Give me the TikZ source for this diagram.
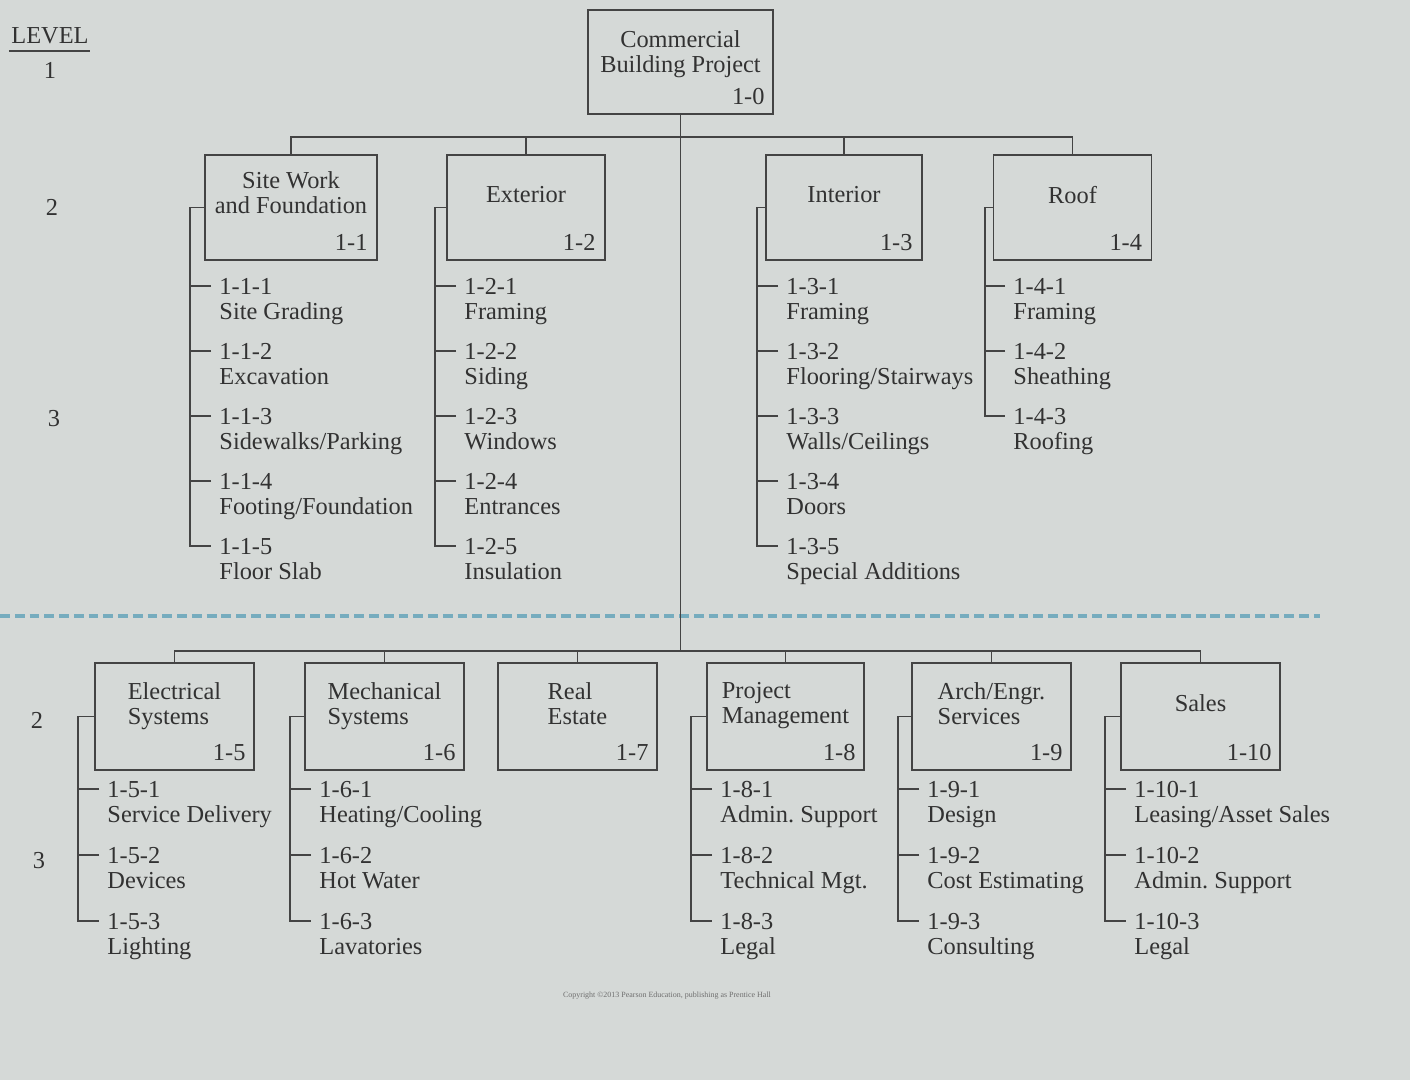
\documentclass[tikz,border=0pt]{standalone}
\usepackage{fontspec}
\setmainfont{Liberation Serif}
\frenchspacing
\usetikzlibrary{positioning,calc}
\definecolor{PageGray}{RGB}{213,217,215}
\definecolor{InkGray}{RGB}{50,50,50}
\definecolor{LineGray}{RGB}{68,68,68}
\definecolor{CutBlue}{RGB}{118,172,190}

\begin{document}
\begin{tikzpicture}[x=0.15mm, y=-0.15mm, font=\fontsize{10.4}{10.8}\selectfont, text=InkGray]
\tikzset{
  wbsbox/.style={draw=LineGray, line width=0.8pt, inner sep=0pt, minimum width=23.7mm, minimum height=15.75mm},
  lowbox/.style={wbsbox, minimum width=23.85mm, minimum height=16.05mm},
  boxtitle/.style={anchor=north, inner sep=0pt, align=center},
  lowtitle/.style={anchor=north, inner sep=0pt, align=left},
  boxcode/.style={anchor=south east, inner sep=0pt},
  item/.style={anchor=north west, inner sep=0pt, align=left},
  link/.style={draw=LineGray, line width=0.8pt}
}
  % page and margins
  \fill[PageGray] (0,0) rectangle (1410,1080);
  \useasboundingbox (0,0) rectangle (1410,1080);

  % level column
  \node[inner sep=0pt] (lvl) at (50,36) {LEVEL};
  \draw[LineGray, line width=0.9pt] ($(lvl.south west)+(-2,6)$) -- ($(lvl.south east)+(1,6)$);
  \node (lv1) at (50,70) {1};
  \node (lv2a) at (52,207) {2};
  \node (lv3a) at (54,419) {3};
  \node (lv2b) at (37,720) {2};
  \node (lv3b) at (39,861) {3};

  % level 1
  \node[wbsbox, minimum width=27.75mm, minimum height=15.6mm] (root) at (680.5,62) {};
  \node[boxtitle] (roott) at ($(root.north)+(0,21)$) {Commercial\\Building Project};
  \node[boxcode] (rootc) at ($(root.south east)+(-9,-10)$) {1-0};
  \coordinate (hubtop) at (680.5,137);
  \coordinate (hublow) at (680.5,651);

  % level 2, upper row
  \node[wbsbox, minimum width=25.8mm] (sw) at (291,207.5) {};
  \node[boxtitle] (swt) at ($(sw.north)+(0,17)$) {Site Work\\and Foundation};
  \node[boxcode] (swc) at ($(sw.south east)+(-10,-10)$) {1-1};
  \node[wbsbox] (ex) at (526,207.5) {};
  \node[boxtitle] (ext) at ($(ex.north)+(0,32)$) {Exterior};
  \node[boxcode] (exc) at ($(ex.south east)+(-10,-10)$) {1-2};
  \node[wbsbox, minimum width=23.4mm] (in) at (844,207.5) {};
  \node[boxtitle] (int) at ($(in.north)+(0,32)$) {Interior};
  \node[boxcode] (inc) at ($(in.south east)+(-10,-10)$) {1-3};
  \node[wbsbox] (rf) at (1072.5,207.5) {};
  \node[boxtitle] (rft) at ($(rf.north)+(0,32)$) {Roof};
  \node[boxcode] (rfc) at ($(rf.south east)+(-10,-10)$) {1-4};

  % level 3, upper row
  \node[item] (sw1) at (219,278) {1-1-1\\Site Grading};
  \node[item] (sw2) at (219,343) {1-1-2\\Excavation};
  \node[item] (sw3) at (219,408) {1-1-3\\Sidewalks/Parking};
  \node[item] (sw4) at (219,473) {1-1-4\\Footing/Foundation};
  \node[item] (sw5) at (219,538) {1-1-5\\Floor Slab};
  \node[item] (ex1) at (464,278) {1-2-1\\Framing};
  \node[item] (ex2) at (464,343) {1-2-2\\Siding};
  \node[item] (ex3) at (464,408) {1-2-3\\Windows};
  \node[item] (ex4) at (464,473) {1-2-4\\Entrances};
  \node[item] (ex5) at (464,538) {1-2-5\\Insulation};
  \node[item] (in1) at (786,278) {1-3-1\\Framing};
  \node[item] (in2) at (786,343) {1-3-2\\Flooring/Stairways};
  \node[item] (in3) at (786,408) {1-3-3\\Walls/Ceilings};
  \node[item] (in4) at (786,473) {1-3-4\\Doors};
  \node[item] (in5) at (786,538) {1-3-5\\Special Additions};
  \node[item] (rf1) at (1013,278) {1-4-1\\Framing};
  \node[item] (rf2) at (1013,343) {1-4-2\\Sheathing};
  \node[item] (rf3) at (1013,408) {1-4-3\\Roofing};

  % cut between the two halves of the sheet
  \draw[CutBlue, line width=1.3pt, dash pattern=on 4.2pt off 2.1pt] (0,616) -- (1320,616);

  % level 2, lower row
  \node[lowbox] (el) at (174.5,716.5) {};
  \node[lowtitle] (elt) at ($(el.north)+(0,20)$) {Electrical\\Systems};
  \node[boxcode] (elc) at ($(el.south east)+(-9,-10)$) {1-5};
  \node[lowbox] (me) at (384.5,716.5) {};
  \node[lowtitle] (met) at ($(me.north)+(0,20)$) {Mechanical\\Systems};
  \node[boxcode] (mec) at ($(me.south east)+(-9,-10)$) {1-6};
  \node[lowbox] (re) at (577.5,716.5) {};
  \node[lowtitle] (ret) at ($(re.north)+(0,20)$) {Real\\Estate};
  \node[boxcode] (rec) at ($(re.south east)+(-9,-10)$) {1-7};
  \node[lowbox, minimum width=23.55mm] (pm) at (785.5,716.5) {};
  \node[lowtitle] (pmt) at ($(pm.north)+(0,20)$) {Project\\Management};
  \node[boxcode] (pmc) at ($(pm.south east)+(-9,-10)$) {1-8};
  \node[lowbox] (ae) at (991.5,716.5) {};
  \node[lowtitle] (aet) at ($(ae.north)+(0,20)$) {Arch/Engr.\\Services};
  \node[boxcode] (aec) at ($(ae.south east)+(-9,-10)$) {1-9};
  \node[lowbox] (sa) at (1200.5,716.5) {};
  \node[boxtitle] (sat) at ($(sa.north)+(0,32)$) {Sales};
  \node[boxcode] (sac) at ($(sa.south east)+(-9,-10)$) {1-10};

  % level 3, lower row
  \node[item] (el1) at (107,781) {1-5-1\\Service Delivery};
  \node[item] (el2) at (107,847) {1-5-2\\Devices};
  \node[item] (el3) at (107,913) {1-5-3\\Lighting};
  \node[item] (me1) at (319,781) {1-6-1\\Heating/Cooling};
  \node[item] (me2) at (319,847) {1-6-2\\Hot Water};
  \node[item] (me3) at (319,913) {1-6-3\\Lavatories};
  \node[item] (pm1) at (720,781) {1-8-1\\Admin. Support};
  \node[item] (pm2) at (720,847) {1-8-2\\Technical Mgt.};
  \node[item] (pm3) at (720,913) {1-8-3\\Legal};
  \node[item] (ae1) at (927,781) {1-9-1\\Design};
  \node[item] (ae2) at (927,847) {1-9-2\\Cost Estimating};
  \node[item] (ae3) at (927,913) {1-9-3\\Consulting};
  \node[item] (sa1) at (1134,781) {1-10-1\\Leasing/Asset Sales};
  \node[item] (sa2) at (1134,847) {1-10-2\\Admin. Support};
  \node[item] (sa3) at (1134,913) {1-10-3\\Legal};

  \node[font=\fontsize{3.4}{4}\selectfont, text=InkGray!70] (copy) at (667,996) {Copyright ©2013 Pearson Education, publishing as Prentice Hall};

  % tree lines
  \draw[link] (root.south) -- (hublow);
  \draw[link] (sw.north) |- (hubtop) -| (rf.north);
  \draw[link] (ex.north) -- (ex.north |- hubtop);
  \draw[link] (in.north) -- (in.north |- hubtop);
  \draw[link] (el.north) |- (hublow) -| (sa.north);
  \draw[link] (me.north) -- (me.north |- hublow);
  \draw[link] (re.north) -- (re.north |- hublow);
  \draw[link] (pm.north) -- (pm.north |- hublow);
  \draw[link] (ae.north) -- (ae.north |- hublow);

  % spines and ticks of the work packages
  \draw[link] (sw.west) -- ++(-14,0) |- ($(sw5.north west)+(-8,8)$);
  \draw[link] (ex.west) -- ++(-11,0) |- ($(ex5.north west)+(-8,8)$);
  \draw[link] (in.west) -- ++(-8,0) |- ($(in5.north west)+(-8,8)$);
  \draw[link] (rf.west) -- ++(-8,0) |- ($(rf3.north west)+(-8,8)$);
  \foreach \k in {1,...,4} {
    \draw[link] ($(sw\k.north west)+(-8,8)$) -- ++(-20,0);
    \draw[link] ($(ex\k.north west)+(-8,8)$) -- ++(-20,0);
    \draw[link] ($(in\k.north west)+(-8,8)$) -- ++(-20,0);
  }
  \draw[link] (el.west) -- ++(-16,0) |- ($(el3.north west)+(-8,8)$);
  \draw[link] (me.west) -- ++(-14,0) |- ($(me3.north west)+(-8,8)$);
  \draw[link] (pm.west) -- ++(-15,0) |- ($(pm3.north west)+(-8,8)$);
  \draw[link] (ae.west) -- ++(-13,0) |- ($(ae3.north west)+(-8,8)$);
  \draw[link] (sa.west) -- ++(-15,0) |- ($(sa3.north west)+(-8,8)$);
  \foreach \k in {1,2} {
    \draw[link] ($(rf\k.north west)+(-8,8)$) -- ++(-20,0);
    \draw[link] ($(el\k.north west)+(-8,8)$) -- ++(-20,0);
    \draw[link] ($(me\k.north west)+(-8,8)$) -- ++(-20,0);
    \draw[link] ($(pm\k.north west)+(-8,8)$) -- ++(-20,0);
    \draw[link] ($(ae\k.north west)+(-8,8)$) -- ++(-20,0);
    \draw[link] ($(sa\k.north west)+(-8,8)$) -- ++(-20,0);
  }
\end{tikzpicture}
\end{document}
